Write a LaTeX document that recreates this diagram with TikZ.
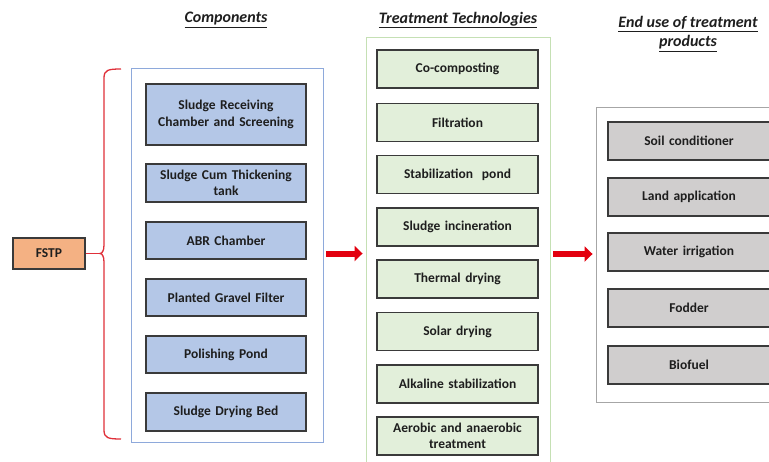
\documentclass[tikz,border=0pt]{standalone}
\usepackage{fontspec}
\setmainfont{Carlito}
\usetikzlibrary{arrows.meta}
\definecolor{fstpfill}{HTML}{F4B183}
\definecolor{compfill}{HTML}{B4C7E7}
\definecolor{compframe}{HTML}{8EA9DB}
\definecolor{techfill}{HTML}{E2EFDA}
\definecolor{techframe}{HTML}{C5E0B4}
\definecolor{usefill}{HTML}{D0CECE}
\definecolor{useframe}{HTML}{A6A6A6}
\definecolor{boxline}{HTML}{3A3A3A}
\definecolor{bracered}{HTML}{E0303A}
\definecolor{arrowred}{HTML}{E3000F}
\definecolor{txt}{HTML}{1E1E1E}
\tikzset{
  item/.style={draw=boxline, line width=1.4pt, text=txt, align=center,
    font=\fontsize{13.5}{16.5}\selectfont\bfseries, inner sep=0pt,
    minimum height=38pt},
  comp/.style={item, fill=compfill, minimum width=160pt, text width=155pt},
  tech/.style={item, fill=techfill, minimum width=161pt, text width=158pt},
  enduse/.style={item, fill=usefill, minimum width=162pt, text width=158pt},
  frame/.style={draw=#1, line width=0.9pt, inner sep=0pt},
  heading/.style={text=txt, align=center,
    font=\fontsize{16}{19}\selectfont\bfseries\itshape},
  flow/.style={arrowred, line width=6pt,
    -{Triangle[length=8pt,width=15pt]}}
}
\begin{document}
\begin{tikzpicture}[x=1pt,y=-1pt]
\useasboundingbox[fill=white] (0,0) rectangle (769,461);

% group frames
\node[frame=compframe, minimum width=192pt, minimum height=374pt] (compbox) at (227,255) {};
\node[frame=techframe, minimum width=184pt, minimum height=438pt] (techbox) at (458,256) {};
\node[frame=useframe, minimum width=179pt, minimum height=295pt] (usebox) at (685.5,254.5) {};

% headings
\node[heading] (h1) at (226,20) {\underline{Components}};
\node[heading] (h2) at (458,20) {\underline{Treatment Technologies}};
\node[heading] (h3) at (688,34) {\underline{End use of treatment}\\\underline{products}};

% FSTP and its brace
\node[item, fill=fstpfill, minimum width=72pt, minimum height=31pt, line width=1.2pt] (fstp) at (49,253.5) {FSTP};
\coordinate (tip) at (100,253.5);
\draw[bracered, line width=1.3pt]
  (121,69) .. controls (108,69) and (104,70) .. (104,78)
  -- (104,245) .. controls (104,251) and (102,253.5) .. (tip)
  .. controls (102,253.5) and (104,256) .. (104,262)
  -- (104,430) .. controls (104,438) and (108,439) .. (121,439);
\draw[bracered, line width=1.3pt] (fstp.east) -- (tip);

% components
\node[comp, minimum height=61pt] (c1) at (226,114.5) {Sludge Receiving\\Chamber and Screening};
\node[comp] (c2) at (226,183) {Sludge Cum Thickening\\tank};
\node[comp, minimum height=37pt] (c3) at (226,240.5) {ABR Chamber};
\node[comp, minimum height=37pt] (c4) at (226,297.5) {Planted Gravel Filter};
\node[comp, minimum height=37pt] (c5) at (226,354.5) {Polishing Pond};
\node[comp] (c6) at (226,412) {Sludge Drying Bed};

% treatment technologies
\node[tech] (t1) at (457.5,69) {Co-composting};
\node[tech] (t2) at (457.5,122.5) {Filtration};
\node[tech] (t3) at (457.5,174.5) {Stabilization\ \ pond};
\node[tech] (t4) at (457.5,227) {Sludge incineration};
\node[tech] (t5) at (457.5,279) {Thermal drying};
\node[tech] (t6) at (457.5,331.5) {Solar drying};
\node[tech] (t7) at (457.5,384) {Alkaline stabilization};
\node[tech] (t8) at (457.5,436) {Aerobic and anaerobic\\treatment};

% end uses
\node[enduse] (u1) at (689,141) {Soil conditioner};
\node[enduse] (u2) at (689,197) {Land application};
\node[enduse] (u3) at (689,252) {Water irrigation};
\node[enduse] (u4) at (689,308) {Fodder};
\node[enduse] (u5) at (689,365) {Biofuel};

% flow arrows
\draw[flow, shorten <=3pt, shorten >=3pt] (compbox.east |- 0,253.5) -- (techbox.west |- 0,253.5);
\draw[flow, shorten <=3pt, shorten >=3pt] (techbox.east |- 0,254) -- (usebox.west |- 0,254);
\end{tikzpicture}
\end{document}
